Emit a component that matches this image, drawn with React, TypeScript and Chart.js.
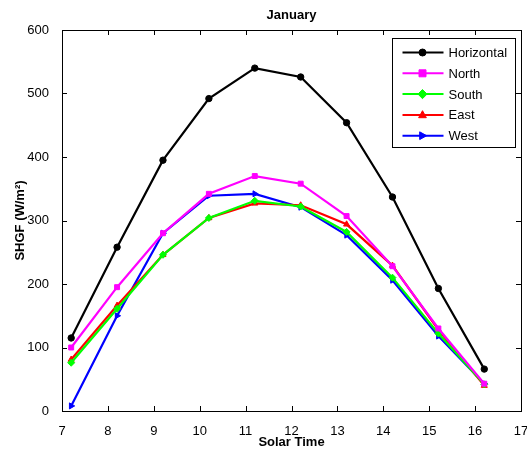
import React, { useEffect, useRef } from "react";
import { Chart, registerables } from "chart.js";

Chart.register(...registerables);

const solarTime = [7.2, 8.2, 9.2, 10.2, 11.2, 12.2, 13.2, 14.2, 15.2, 16.2];
const horizontal = [115, 258, 395, 492, 540, 526, 454, 337, 193, 66];
const north = [100, 195, 280, 342, 370, 358, 307, 228, 130, 43];
const south = [76, 161, 246, 304, 331, 322, 282, 210, 122, 42];
const east = [81, 166, 246, 304, 327, 324, 294, 229, 128, 40];
const west = [8, 150, 280, 339, 342, 321, 277, 206, 118, 43];
const xTicks = [7, 8, 9, 10, 11, 12, 13, 14, 15, 16, 17];
const yTicks = [0, 100, 200, 300, 400, 500, 600];

const FONT = "Arial, 'Liberation Sans', sans-serif";

const seriesDefs = [
  { label: "Horizontal", data: horizontal, color: "#000000", style: "circle", rot: 0 },
  { label: "North", data: north, color: "#ff00ff", style: "rect", rot: 0 },
  { label: "South", data: south, color: "#00ff00", style: "rectRot", rot: 0 },
  { label: "East", data: east, color: "#ff0000", style: "triangle", rot: 0 },
  { label: "West", data: west, color: "#0000ff", style: "triangle", rot: 90 },
];

function drawMarker(ctx: CanvasRenderingContext2D, style: string, rot: number, x: number, y: number, r: number) {
  ctx.save();
  ctx.translate(x, y);
  ctx.rotate((rot * Math.PI) / 180);
  ctx.beginPath();
  if (style === "circle") {
    ctx.arc(0, 0, r, 0, Math.PI * 2);
  } else if (style === "rect") {
    ctx.rect(-r, -r, 2 * r, 2 * r);
  } else if (style === "rectRot") {
    ctx.moveTo(0, -r * 1.3);
    ctx.lineTo(r * 1.3, 0);
    ctx.lineTo(0, r * 1.3);
    ctx.lineTo(-r * 1.3, 0);
    ctx.closePath();
  } else {
    ctx.moveTo(0, -r * 1.2);
    ctx.lineTo(r * 1.1, r * 0.8);
    ctx.lineTo(-r * 1.1, r * 0.8);
    ctx.closePath();
  }
  ctx.fill();
  ctx.stroke();
  ctx.restore();
}

const frameTicksPlugin = {
  id: "frameTicks",
  afterDatasetsDraw(chart: any) {
    const { ctx, chartArea: a, scales } = chart;
    ctx.save();
    ctx.strokeStyle = "#000";
    ctx.lineWidth = 1;
    ctx.beginPath();
    const len = 5;
    xTicks.forEach((v) => {
      const x = Math.round(scales.x.getPixelForValue(v)) + 0.5;
      ctx.moveTo(x, a.bottom);
      ctx.lineTo(x, a.bottom - len);
      ctx.moveTo(x, a.top);
      ctx.lineTo(x, a.top + len);
    });
    yTicks.forEach((v) => {
      const y = Math.round(scales.y.getPixelForValue(v)) + 0.5;
      ctx.moveTo(a.left, y);
      ctx.lineTo(a.left + len, y);
      ctx.moveTo(a.right, y);
      ctx.lineTo(a.right - len, y);
    });
    ctx.stroke();
    ctx.strokeRect(Math.round(a.left) + 0.5, Math.round(a.top) + 0.5, Math.round(a.right - a.left), Math.round(a.bottom - a.top));

    // legend
    const bw = 123;
    const bh = 109;
    const bx = Math.round(a.right - bw - 6) + 0.5;
    const by = Math.round(a.top + 8) + 0.5;
    ctx.fillStyle = "#fff";
    ctx.fillRect(bx, by, bw, bh);
    ctx.strokeRect(bx, by, bw, bh);
    ctx.font = `13px ${FONT}`;
    ctx.textBaseline = "middle";
    seriesDefs.forEach((s, i) => {
      const y = by + 14 + i * 20.8;
      ctx.strokeStyle = s.color;
      ctx.lineWidth = 2;
      ctx.beginPath();
      ctx.moveTo(bx + 10, y);
      ctx.lineTo(bx + 51, y);
      ctx.stroke();
      ctx.fillStyle = s.color;
      ctx.strokeStyle = s.color;
      ctx.lineWidth = 1;
      drawMarker(ctx, s.style, s.rot, bx + 30, y, 3.5);
      ctx.fillStyle = "#000";
      ctx.fillText(s.label, bx + 56, y + 1);
    });
    ctx.restore();
  },
};

export default function App() {
  const ref = useRef<HTMLCanvasElement | null>(null);
  useEffect(() => {
    if (!ref.current) return;
    const chart = new Chart(ref.current, {
      type: "line",
      data: {
        datasets: seriesDefs.map((s) => ({
          label: s.label,
          data: s.data.map((v, i) => ({ x: solarTime[i], y: v })),
          borderColor: s.color,
          backgroundColor: s.color,
          borderWidth: 2.2,
          pointStyle: s.style as any,
          pointRotation: s.rot,
          pointRadius: s.style === "circle" ? 3.2 : 3.5,
          pointBorderWidth: 1,
          tension: 0,
        })),
      },
      options: {
        animation: false,
        responsive: false,
        maintainAspectRatio: false,
        layout: { padding: { left: 0, right: 6, top: 0, bottom: 0 } },
        plugins: {
          legend: { display: false },
          tooltip: { enabled: false },
          title: {
            display: true,
            text: "January",
            fullSize: false,
            color: "#000",
            font: { family: FONT, size: 13, weight: "bold" },
            padding: { top: 7.2, bottom: 7.2 },
          },
        },
        scales: {
          x: {
            type: "linear",
            min: 7,
            max: 17,
            afterBuildTicks: (scale: any) => {
              scale.ticks = xTicks.map((v) => ({ value: v }));
            },
            afterFit: (scale: any) => {
              scale.height = 39;
              scale.paddingLeft = 0;
              scale.paddingRight = 0;
            },
            grid: { display: false },
            border: { display: false },
            ticks: {
              color: "#000",
              font: { family: FONT, size: 13 },
              padding: 5,
              maxRotation: 0,
              autoSkip: false,
            },
            title: {
              display: true,
              text: "Solar Time",
              color: "#000",
              font: { family: FONT, size: 13, weight: "bold" },
              padding: { top: 0, bottom: 0 },
            },
          },
          y: {
            type: "linear",
            min: 0,
            max: 600,
            afterBuildTicks: (scale: any) => {
              scale.ticks = yTicks.map((v) => ({ value: v }));
            },
            afterFit: (scale: any) => {
              scale.width = 62;
            },
            grid: { display: false },
            border: { display: false },
            ticks: {
              color: "#000",
              font: { family: FONT, size: 13 },
              padding: 5,
            },
            title: {
              display: true,
              text: "SHGF (W/m²)",
              color: "#000",
              font: { family: FONT, size: 13, weight: "bold" },
              padding: { top: 13, bottom: 4 },
            },
          },
        },
      },
      plugins: [frameTicksPlugin],
    });
    return () => chart.destroy();
  }, []);
  return (
    <div style={{ position: "fixed", left: 0, top: 0, width: 527, height: 450, background: "#fff" }}>
      <canvas ref={ref} width={527} height={450} style={{ width: 527, height: 450 }} />
    </div>
  );
}
